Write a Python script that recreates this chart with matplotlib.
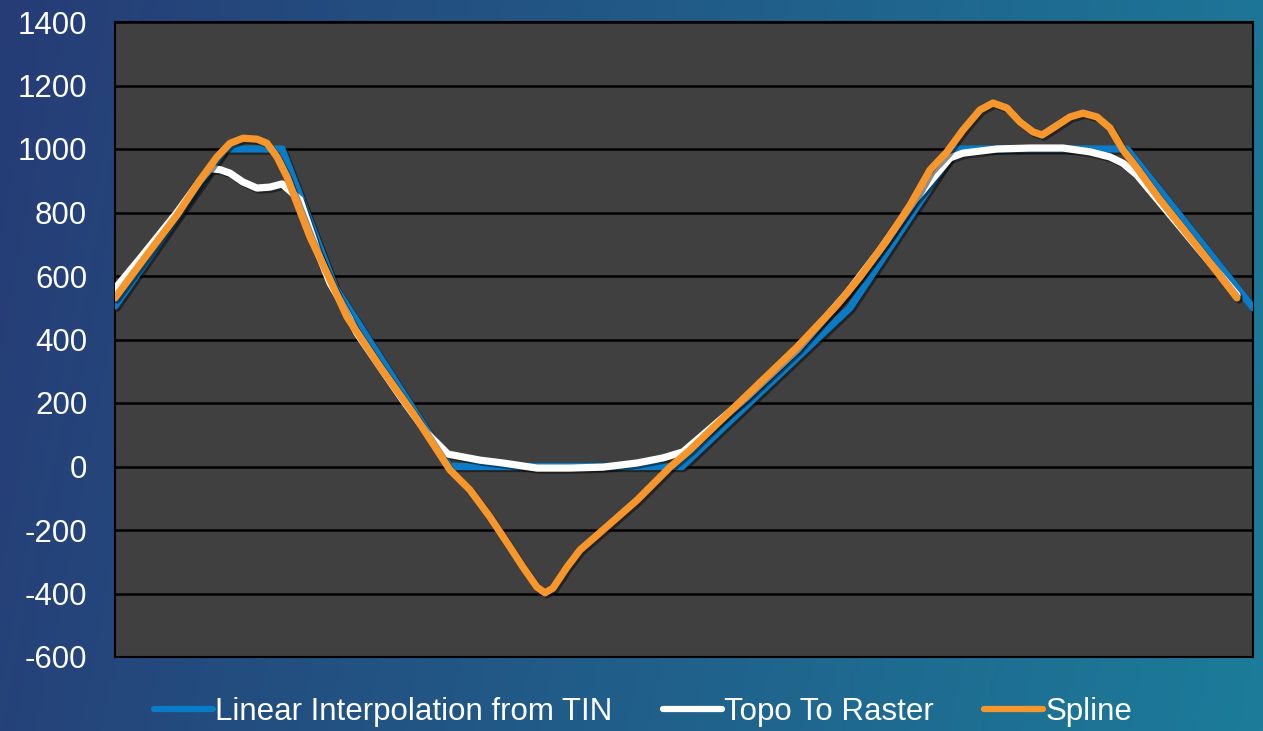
import numpy as np
import matplotlib
matplotlib.use("Agg")
import matplotlib.pyplot as plt
import matplotlib.patheffects as pe

# profile distance (arbitrary units along the transect) and elevations
tin_x = [0, 110, 167, 220, 335, 567, 735, 840, 1012, 1138]
tin_y = [505, 1000, 1000, 565, 0, 0, 500, 1000, 1000, 500]

topo_x = [0, 25, 62, 85, 95, 105, 115, 128, 142, 155, 167, 185, 202, 215,
          225, 242, 265, 288, 312, 333, 365, 388, 422, 455, 488, 522, 548,
          568, 632, 682, 732, 765, 800, 835, 848, 882, 915, 948, 975, 995,
          1008, 1022, 1072, 1122]
topo_y = [560, 655, 800, 900, 938, 935, 924, 896, 877, 880, 890, 840, 682,
          578, 524, 420, 314, 209, 105, 39, 20, 11, -5, -5, -2, 11, 27, 46,
          219, 367, 546, 682, 840, 972, 987, 1000, 1003, 1003, 991, 975, 955,
          918, 729, 540]

spline_x = [0, 28, 62, 85, 102, 115, 128, 142, 152, 162, 172, 182, 195, 212,
            232, 265, 298, 322, 335, 355, 375, 395, 408, 422, 430, 438, 452,
            465, 488, 522, 555, 575, 632, 682, 722, 745, 772, 795, 815, 832,
            848, 865, 878, 892, 905, 918, 927, 938, 955, 968, 982, 995, 1008,
            1022, 1045, 1085, 1122]
spline_y = [531, 650, 792, 902, 975, 1018, 1034, 1031, 1018, 975, 912, 829,
            723, 609, 471, 314, 168, 52, -11, -74, -159, -254, -317, -380,
            -398, -383, -317, -263, -200, -106, -2, 52, 225, 376, 509, 597,
            713, 823, 934, 991, 1060, 1123, 1145, 1129, 1085, 1054, 1044,
            1066, 1101, 1113, 1101, 1066, 997, 940, 840, 682, 531]

labels = ["Linear Interpolation from TIN", "Topo To Raster", "Spline"]
colors = ["#0a7bc6", "#ffffff", "#f7962a"]
yticks = list(range(-600, 1401, 200))

plt.rcParams["font.family"] = ["Liberation Sans", "DejaVu Sans"]
plt.rcParams["axes.unicode_minus"] = False

W, H = 1263, 731
fig = plt.figure(figsize=(W / 100, H / 100), dpi=100)

# blue-to-teal backdrop
bg = fig.add_axes([0, 0, 1, 1], zorder=-10)
gx = np.linspace(0, 1, 300)[None, :]
gy = np.linspace(0, 1, 200)[:, None]
t = np.clip(gx * 0.9 + gy * 0.1, 0, 1)
left = np.array([38, 60, 118]) / 255
right = np.array([28, 124, 154]) / 255
img = left[None, None, :] + (right - left)[None, None, :] * t[..., None]
bg.imshow(img, aspect="auto", extent=[0, 1, 0, 1], origin="upper")
bg.axis("off")

ax = fig.add_axes([115 / W, 1 - 657 / H, (1253 - 115) / W, (657 - 22) / H])
ax.set_facecolor("#404040")

shadow = [pe.SimpleLineShadow(offset=(1.5, -1.5), shadow_color="black",
                              alpha=0.45), pe.Normal()]

series = [(tin_x, tin_y), (topo_x, topo_y), (spline_x, spline_y)]
for (xs, ys), lab, col in zip(series, labels, colors):
    ax.plot(xs, ys, color=col, lw=5.2, label=lab, solid_capstyle="round",
            solid_joinstyle="round", path_effects=shadow, zorder=3)

ax.set_xlim(0, 1138)
ax.set_ylim(-600, 1400)
ax.set_yticks(yticks)
ax.set_xticks([])
ax.yaxis.grid(True, color="black", lw=1.8, zorder=1)
ax.set_axisbelow(True)
ax.tick_params(axis="y", length=0, pad=20, labelsize=22.5, labelcolor="white")
for s in ax.spines.values():
    s.set_color("black")
    s.set_linewidth(1.5)

handles, labs = ax.get_legend_handles_labels()
leg = fig.legend(handles, labs, loc="center", ncol=3, frameon=False,
                 bbox_to_anchor=(643 / W, 1 - 712 / H), fontsize=22.5,
                 handlelength=1.9, handletextpad=0.07, columnspacing=1.6,
                 borderpad=0)
for txt in leg.get_texts():
    txt.set_color("white")
for ln in leg.get_lines():
    ln.set_linewidth(4.5)
    ln.set_path_effects([])

fig.savefig("out.png", dpi=100)
